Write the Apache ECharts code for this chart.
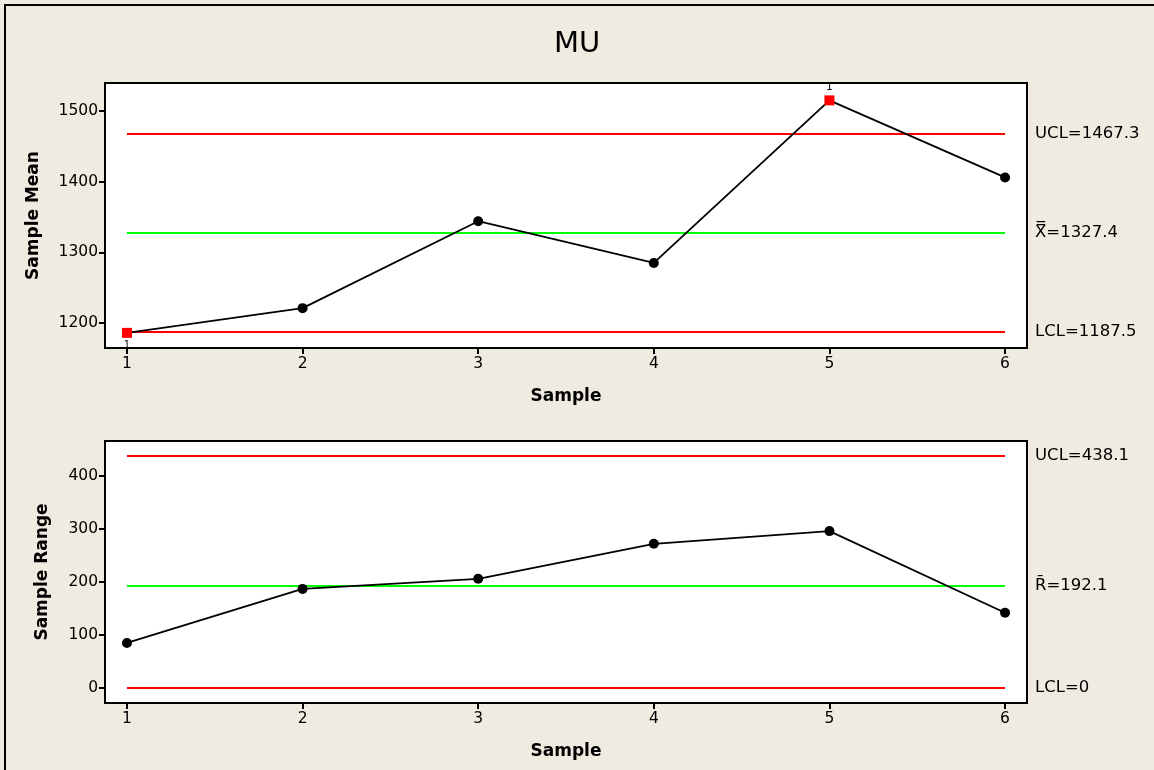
<!DOCTYPE html>
<html>
<head>
<meta charset="utf-8">
<script src="https://cdn.jsdelivr.net/npm/echarts@6/dist/echarts.min.js"></script>
<style>
  html, body { margin: 0; padding: 0; background: #efebe0; }
  #chart { width: 1154px; height: 770px; }
</style>
</head>
<body>
<div id="chart"></div>
<script>
// Xbar-R control chart for MU
const samples = [1, 2, 3, 4, 5, 6];
const sampleMeans = [1186, 1221, 1344, 1285, 1515, 1406];
const sampleRanges = [85, 187, 206, 272, 296, 142];
const meanLimits = { ucl: 1467.3, center: 1327.4, lcl: 1187.5 };
const rangeLimits = { ucl: 438.1, center: 192.1, lcl: 0 };
const meanLimitLabels = ['UCL=1467.3', 'X\u033F=1327.4', 'LCL=1187.5'];
const rangeLimitLabels = ['UCL=438.1', 'R\u0304=192.1', 'LCL=0'];
const meanTicks = [1200, 1300, 1400, 1500];
const rangeTicks = [0, 100, 200, 300, 400];

const FONT = 'DejaVu Sans';
const RED = '#ff0000';
const GREEN = '#00ff00';

function limitLines(limits, labels) {
  const vals = [limits.ucl, limits.center, limits.lcl];
  const colors = [RED, GREEN, RED];
  return vals.map((v, i) => ([
    {
      coord: [samples[0], v],
      lineStyle: { color: colors[i], width: 1.8, type: 'solid' },
      label: {
        show: true, position: 'end', formatter: labels[i],
        color: '#000', fontFamily: FONT, fontSize: 16.5, distance: 30
      }
    },
    { coord: [samples[samples.length - 1], v] }
  ]));
}

function pointData(values, limits) {
  return values.map((v, i) => {
    const out = v > limits.ucl || v < limits.lcl;
    const item = { value: [samples[i], v] };
    if (out) {
      item.symbol = 'rect';
      item.symbolSize = 10;
      item.itemStyle = { color: RED };
      item.label = {
        show: true, formatter: '1', fontSize: 10, fontFamily: FONT, color: '#000',
        position: v > limits.ucl ? 'top' : 'bottom', distance: 3
      };
    }
    return item;
  });
}

const nameStyle = { fontFamily: FONT, fontSize: 17, fontWeight: 'bold', color: '#000' };
const labelStyle = { fontFamily: FONT, fontSize: 15.5, color: '#000' };

function xAxis(gridIndex) {
  return {
    type: 'value', gridIndex, min: 0.875, max: 6.125,
    name: 'Sample', nameLocation: 'middle', nameGap: 40,
    nameTextStyle: nameStyle,
    axisLine: { show: true, onZero: false, lineStyle: { color: '#000', width: 2 } },
    axisTick: { show: true, customValues: samples, length: 6, lineStyle: { color: '#000', width: 2 } },
    axisLabel: Object.assign({ customValues: samples, margin: 8, formatter: v => String(v) }, labelStyle),
    splitLine: { show: false }
  };
}

function yAxis(gridIndex, min, max, name, nameGap, ticks) {
  return {
    type: 'value', gridIndex, min, max,
    name, nameLocation: 'middle', nameGap, nameRotate: 90,
    nameTextStyle: nameStyle,
    axisLine: { show: true, onZero: false, lineStyle: { color: '#000', width: 2 } },
    axisTick: { show: true, customValues: ticks, length: 6, lineStyle: { color: '#000', width: 2 } },
    axisLabel: Object.assign({ customValues: ticks, margin: 7, formatter: v => String(v) }, labelStyle),
    splitLine: { show: false }
  };
}

const chart = echarts.init(document.getElementById('chart'));
chart.setOption({
  backgroundColor: '#efebe0',
  animation: false,
  title: {
    text: 'MU', left: 'center', top: 25,
    textStyle: { fontFamily: FONT, fontSize: 29, fontWeight: 'normal', color: '#000' }
  },
  graphic: [{
    type: 'rect', shape: { x: 5, y: 5, width: 1160, height: 780 },
    style: { fill: 'none', stroke: '#000', lineWidth: 2 }, silent: true, z: 100
  }],
  grid: [
    { left: 105, top: 83, width: 922, height: 265, show: true, backgroundColor: '#fff', borderColor: '#000', borderWidth: 2 },
    { left: 105, top: 441, width: 922, height: 262, show: true, backgroundColor: '#fff', borderColor: '#000', borderWidth: 2 }
  ],
  xAxis: [xAxis(0), xAxis(1)],
  yAxis: [
    yAxis(0, 1164.6, 1539.6, 'Sample Mean', 63, meanTicks),
    yAxis(1, -28.3, 466, 'Sample Range', 54, rangeTicks)
  ],
  series: [
    {
      type: 'line', xAxisIndex: 0, yAxisIndex: 0,
      data: pointData(sampleMeans, meanLimits),
      symbol: 'circle', symbolSize: 10,
      itemStyle: { color: '#000' },
      lineStyle: { color: '#000', width: 1.8 },
      markLine: { silent: true, symbol: 'none', animation: false, data: limitLines(meanLimits, meanLimitLabels) },
      z: 5
    },
    {
      type: 'line', xAxisIndex: 1, yAxisIndex: 1,
      data: pointData(sampleRanges, rangeLimits),
      symbol: 'circle', symbolSize: 10,
      itemStyle: { color: '#000' },
      lineStyle: { color: '#000', width: 1.8 },
      markLine: { silent: true, symbol: 'none', animation: false, data: limitLines(rangeLimits, rangeLimitLabels) },
      z: 5
    }
  ]
});
</script>
</body>
</html>
